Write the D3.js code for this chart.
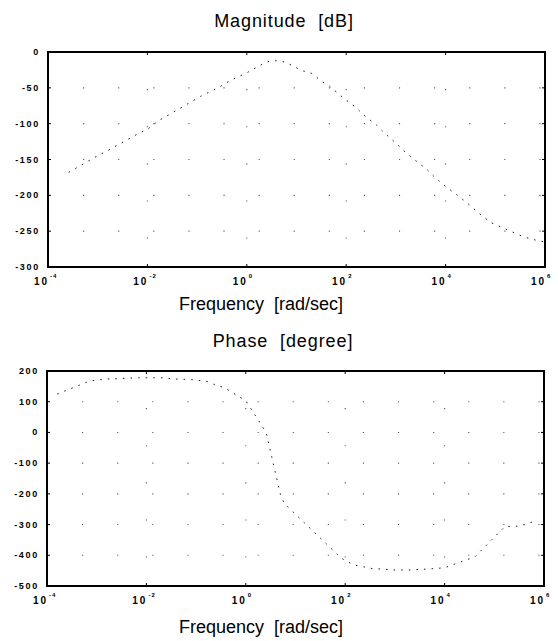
<!DOCTYPE html>
<html>
<head>
<meta charset="UTF-8">
<script src="https://d3js.org/d3.v7.min.js"></script>
<style>
  body { margin: 0; background: #fff; }
  .ylab { font-family: "Liberation Sans", Arial, sans-serif; font-size: 9px; font-weight: bold; letter-spacing: 1.7px; }
  .xlab { font-family: "Liberation Sans", Arial, sans-serif; font-size: 10px; font-weight: bold; letter-spacing: 2px; }
  .xexp { font-family: "Liberation Sans", Arial, sans-serif; font-size: 6px; font-weight: bold; letter-spacing: 1px; }
  .title { font-family: "Liberation Sans", Arial, sans-serif; font-size: 18px; white-space: pre; }
</style>
</head>
<body>
<div id="chart"></div>
<script>
// x ticks (decades)
var freqTicks = [1e-4, 1e-2, 1e0, 1e2, 1e4, 1e6];
var tickExps = ["-4", "-2", "0", "2", "4", "6"];

// magnitude panel
var magTicks = [0, -50, -100, -150, -200, -250, -300];
var magFreq = [2.6e-4, 8.7e-4, 1.45e-3, 6.5e-3, 0.01, 0.0166, 0.117, 0.295, 0.457, 1, 2.45, 3.55, 5.9,
  12.9, 20.4, 32.4, 46.8, 91, 148, 219, 407, 589, 1100, 1620, 4370, 5890, 9330, 17400, 27500,
  46800, 81300, 129000, 219000, 372000, 692000, 1e6];
var magDb = [-168, -147, -139, -114, -108, -96, -62, -48, -40, -29, -14, -12, -14,
  -26, -30, -41, -48, -65, -76, -87, -102, -113, -130, -141, -165, -174, -186, -200, -211,
  -225, -238, -244, -251, -258, -263, -265];

// phase panel
var phaseTicks = [200, 100, 0, -100, -200, -300, -400, -500];
var phaseFreq = [1.6e-4, 7.4e-4, 1.6e-3, 2.75e-3, 6.9e-3, 0.022, 0.035, 0.087, 0.174, 0.24, 0.38, 1,
  2.57, 4.9, 5.9, 83, 110, 155, 347, 1020, 2040, 6900, 10200, 40700, 162000, 324000, 589000];
var phaseDeg = [125, 168, 174, 175, 178, 178, 174, 172, 165, 155, 145, 103,
  0, -198, -231, -409, -421, -432, -443, -448, -448, -443, -440, -405, -307, -305, -291];

var W = 558, H = 641;
var svg = d3.select("#chart").append("svg").attr("width", W).attr("height", H);

function panel(box, yDomain, yTicks, xs, ys, title, titleX, titleY, xlabY) {
  var x = d3.scaleLog().domain([1e-4, 1e6]).range([box.l, box.r]);
  var y = d3.scaleLinear().domain(yDomain).range([box.b, box.t]);
  var g = svg.append("g");

  // grid, very sparse dots like the scan
  g.selectAll(".vg").data(freqTicks.slice(1, -1)).enter().append("line")
    .attr("x1", d => x(d)).attr("x2", d => x(d)).attr("y1", box.t).attr("y2", box.b)
    .attr("stroke", "#555").attr("stroke-width", 1.1).attr("stroke-dasharray", "1.1,36");
  g.selectAll(".hg").data(yTicks.slice(1, -1)).enter().append("line")
    .attr("x1", box.l).attr("x2", box.r).attr("y1", d => y(d)).attr("y2", d => y(d))
    .attr("stroke", "#555").attr("stroke-width", 1.1).attr("stroke-dasharray", "1.1,34");

  // inner ticks
  yTicks.forEach(function (d) {
    g.append("line").attr("x1", box.l).attr("x2", box.l + 3).attr("y1", y(d)).attr("y2", y(d)).attr("stroke", "#000");
    g.append("line").attr("x1", box.r).attr("x2", box.r - 3).attr("y1", y(d)).attr("y2", y(d)).attr("stroke", "#000");
  });
  freqTicks.forEach(function (d) {
    g.append("line").attr("x1", x(d)).attr("x2", x(d)).attr("y1", box.b).attr("y2", box.b - 3).attr("stroke", "#000");
    g.append("line").attr("x1", x(d)).attr("x2", x(d)).attr("y1", box.t).attr("y2", box.t + 3).attr("stroke", "#000");
  });

  // curve
  var line = d3.line().x((d, i) => x(xs[i])).y(d => y(d));
  g.append("path").datum(ys).attr("d", line)
    .attr("fill", "none").attr("stroke", "#222").attr("stroke-width", 1)
    .attr("stroke-dasharray", "1.6,6");

  // frame
  g.append("rect").attr("x", box.l).attr("y", box.t)
    .attr("width", box.r - box.l).attr("height", box.b - box.t)
    .attr("fill", "none").attr("stroke", "#000").attr("stroke-width", 2);

  // y tick labels
  g.selectAll(".yl").data(yTicks).enter().append("text").attr("class", "ylab")
    .attr("x", box.l - 8).attr("y", d => y(d) + 3).attr("text-anchor", "end")
    .text(d => d);

  // x tick labels 10^n
  freqTicks.forEach(function (d, i) {
    g.append("text").attr("class", "xlab").attr("x", x(d) + 1).attr("y", box.b + 18)
      .attr("text-anchor", "end").text("10");
    g.append("text").attr("class", "xexp")
      .attr("x", x(d) + 2).attr("y", box.b + 11).text(tickExps[i]);
  });

  svg.append("text").attr("class", "title").attr("x", titleX).attr("y", titleY)
    .attr("text-anchor", "middle").style("letter-spacing", "0.9px").text(title);
  svg.append("text").attr("class", "title").attr("x", 261).attr("y", xlabY)
    .attr("text-anchor", "middle").text("Frequency  [rad/sec]");
}

panel({l: 48, r: 545, t: 52, b: 267}, [-300, 0], magTicks, magFreq, magDb, "Magnitude  [dB]", 284, 27, 310);
panel({l: 47, r: 544, t: 371, b: 586}, [-500, 200], phaseTicks, phaseFreq, phaseDeg, "Phase  [degree]", 283, 347, 633);
</script>
</body>
</html>
